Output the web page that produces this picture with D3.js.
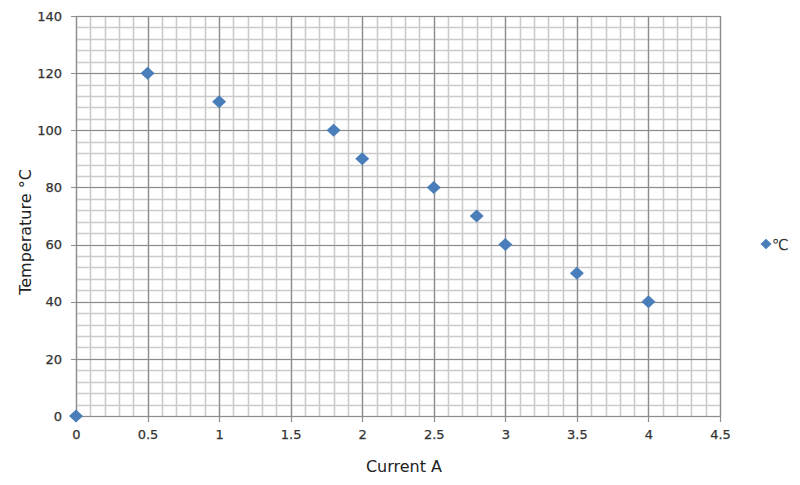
<!DOCTYPE html>
<html><head><meta charset="utf-8">
<script src="https://cdn.jsdelivr.net/npm/d3@7"></script>
<style>body{margin:0;background:#fff}text{font-family:"DejaVu Sans",Verdana,sans-serif}</style>
</head><body><svg id="c" width="800" height="485"></svg>
<script>
const currents = [0, 0.5, 1, 1.8, 2, 2.5, 2.8, 3, 3.5, 4];
const temps = [0, 120, 110, 100, 90, 80, 70, 60, 50, 40];
const xTicks = [0, 0.5, 1, 1.5, 2, 2.5, 3, 3.5, 4, 4.5];
const yTicks = [0, 20, 40, 60, 80, 100, 120, 140];
const seriesName = "℃";

const svg = d3.select("#c");
const x = d3.scaleLinear().domain([0, 4.5]).range([76, 720]);
const y = d3.scaleLinear().domain([0, 140]).range([416, 16]);

const g = svg.append("g");
// minor grid
const xMinor = d3.range(0, 4.5001, 0.1);
const yMinor = d3.range(0, 140.001, 4);
g.selectAll(".xm").data(xMinor).join("line")
  .attr("x1", d => Math.round(x(d)) + 0.5).attr("x2", d => Math.round(x(d)) + 0.5)
  .attr("y1", y(140)).attr("y2", y(0)).attr("stroke", "#cbcbcb").attr("stroke-width", 1.6);
g.selectAll(".ym").data(yMinor).join("line")
  .attr("y1", d => Math.round(y(d)) + 0.5).attr("y2", d => Math.round(y(d)) + 0.5)
  .attr("x1", x(0)).attr("x2", x(4.5)).attr("stroke", "#cbcbcb").attr("stroke-width", 1.6);
// major grid
g.selectAll(".xM").data(xTicks).join("line")
  .attr("x1", d => Math.round(x(d)) + 0.5).attr("x2", d => Math.round(x(d)) + 0.5)
  .attr("y1", y(140)).attr("y2", y(0) + 6).attr("stroke", "#8c8c8c").attr("stroke-width", 1.2);
g.selectAll(".yM").data(yTicks).join("line")
  .attr("y1", d => Math.round(y(d)) + 0.5).attr("y2", d => Math.round(y(d)) + 0.5)
  .attr("x1", x(0) - 5).attr("x2", x(4.5)).attr("stroke", "#8c8c8c").attr("stroke-width", 1.2);

// axes labels
const xAxis = d3.axisBottom(x).tickValues(xTicks).tickSize(0).tickPadding(14).tickFormat(d => d);
const xg = svg.append("g").attr("transform", `translate(0,${y(0)})`).call(xAxis);
const yAxis = d3.axisLeft(y).tickValues(yTicks).tickSize(0).tickPadding(14).tickFormat(d => d);
const yg = svg.append("g").attr("transform", `translate(${x(0)},0)`).call(yAxis);
[xg, yg].forEach(a => {
  a.select(".domain").remove();
  a.selectAll("text").attr("font-size", 13).attr("fill", "#333").attr("font-family", "DejaVu Sans, sans-serif")
    .attr("stroke", "#333").attr("stroke-width", 0.25);
});

svg.append("text").attr("x", (x(0) + x(4.5)) / 2 + 6).attr("y", 472).attr("text-anchor", "middle")
  .attr("font-size", 16).attr("fill", "#222").attr("font-family", "Liberation Sans, Arial, sans-serif").text("Current A");
svg.append("text").attr("transform", `translate(31,232) rotate(-90)`).attr("text-anchor", "middle")
  .attr("font-size", 16).attr("fill", "#222").attr("font-family", "Liberation Sans, Arial, sans-serif").text("Temperature °C");

// points (diamond: half-width 7, half-height 6.5)
const diamondPath = (() => { const p = d3.path(); p.moveTo(0, -6.5); p.lineTo(7, 0); p.lineTo(0, 6.5); p.lineTo(-7, 0); p.closePath(); return p.toString(); })();
const pts = currents.map((c, i) => ({c, t: temps[i]}));
svg.selectAll(".pt").data(pts).join("path")
  .attr("d", diamondPath).attr("transform", d => `translate(${x(d.c)},${y(d.t)})`)
  .attr("fill", "#4a7ebb");

// legend
svg.append("path").attr("d", diamondPath).attr("transform", "translate(766,244) scale(0.8)").attr("fill", "#4a7ebb");
svg.append("text").attr("x", 772).attr("y", 250).attr("font-size", 15).attr("fill", "#333").text(seriesName);
</script></body></html>
